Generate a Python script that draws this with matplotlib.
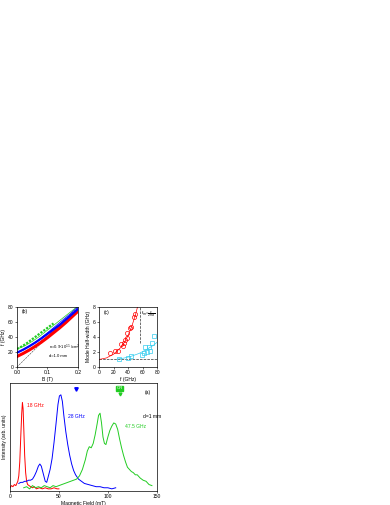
import numpy as np
import matplotlib

matplotlib.use("Agg")
import matplotlib.pyplot as plt

plt.rcParams["font.family"] = ["Liberation Sans", "DejaVu Sans"]
FS = 3.6

# ---- panel (a): spectra ----
red_B = [0, 1.5, 3, 4.5, 6, 7, 8, 9, 10, 11, 12, 12.7, 13.4, 14.2, 15, 16, 17, 18, 19.5, 21,
         23, 25, 27, 30, 33, 36, 39, 42, 45, 48, 50]
red_I = [0.03, 0.05, 0.04, 0.06, 0.05, 0.07, 0.09, 0.14, 0.27, 0.5, 0.72, 0.82, 0.76, 0.55, 0.33,
         0.17, 0.09, 0.06, 0.05, 0.04, 0.03, 0.04, 0.02, 0.03, 0.02, 0.03, 0.02, 0.02, 0.03, 0.02, 0.02]

blue_B = [9, 11, 13, 15, 17, 19, 21, 23, 25, 27, 29, 30.5, 32, 34, 36, 37.5, 39, 41, 43, 45,
          47, 49, 50.5, 52, 53.5, 55, 57, 59, 61, 63, 65, 67, 70, 73, 76, 80, 84, 88, 92,
          96, 100, 104, 108]
blue_I = [0.07, 0.08, 0.08, 0.09, 0.09, 0.1, 0.1, 0.11, 0.14, 0.18, 0.23, 0.25, 0.23, 0.16,
          0.09, 0.08, 0.13, 0.2, 0.3, 0.45, 0.62, 0.8, 0.88, 0.89, 0.83, 0.7, 0.55, 0.43, 0.33,
          0.25, 0.19, 0.15, 0.11, 0.09, 0.07, 0.06, 0.05, 0.04, 0.04, 0.03, 0.03, 0.02, 0.03]

green_B = [14, 17, 20, 23, 26, 29, 32, 35, 38, 41, 44, 47, 50, 53, 56, 59, 62, 65, 68, 71,
           74, 77, 79, 81, 83, 85, 87, 89, 90.5, 92, 93.5, 95, 96.5, 98, 100, 102, 104, 106,
           108, 110, 112, 114, 116, 118, 120, 122, 124, 126, 128, 130, 133, 136, 139, 142, 145]
green_I = [0.03, 0.04, 0.02, 0.05, 0.03, 0.04, 0.03, 0.05, 0.04, 0.03, 0.05, 0.04, 0.05, 0.06,
           0.07, 0.08, 0.09, 0.1, 0.11, 0.14, 0.2, 0.29, 0.37, 0.41, 0.4, 0.44, 0.52, 0.62, 0.7,
           0.72, 0.63, 0.5, 0.44, 0.43, 0.5, 0.56, 0.6, 0.63, 0.62, 0.57, 0.48, 0.4, 0.33, 0.27,
           0.22, 0.2, 0.18, 0.17, 0.15, 0.15, 0.12, 0.1, 0.09, 0.06, 0.05]

# ---- panel (b): f vs B ----
gb_B = [0.0, 0.01, 0.02, 0.03, 0.04, 0.05, 0.06, 0.07, 0.08, 0.09, 0.1, 0.11, 0.12]
gb_f = [24, 26, 28.5, 31, 34, 37, 40, 43, 46, 49, 52, 55, 58]
bb_B = [0.0, 0.02, 0.04, 0.06, 0.08, 0.1, 0.12, 0.14, 0.16, 0.18, 0.2]
bb_f = [19, 23, 27.5, 32.5, 38, 44, 50, 56, 63, 70, 77]
rb_B = [0.0, 0.02, 0.04, 0.06, 0.08, 0.1, 0.12, 0.14, 0.16, 0.18, 0.2]
rb_f = [14, 18, 22.5, 27.5, 33, 39, 45.5, 52, 59, 66.5, 74]
fit_B = [0.0, 0.025, 0.05, 0.075, 0.1, 0.125, 0.15, 0.175, 0.2]
fit_g = [24, 28, 34, 41, 49, 57, 65, 73, 81]
fit_b = [19, 23.5, 30, 37.5, 45.5, 54, 62.5, 71, 80]
fit_r = [14, 19, 25.5, 33, 41, 49.5, 58, 66.5, 75.5]
diag_B = [0.0, 0.2]
diag_f = [0.0, 80.0]

# ---- panel (c): mode half-width ----
c_red_f = [15.5, 22, 26.5, 30, 32.5, 34.5, 36, 38, 39, 43, 44.5, 47.5, 49.5]
c_red_w = [1.9, 2.1, 2.1, 3.05, 2.8, 3.2, 3.6, 3.8, 4.5, 5.2, 5.3, 6.6, 7.0]
c_cy_f = [27.5, 39.5, 44, 59, 61.5, 63, 66, 68.5, 70.5, 73, 75.5]
c_cy_w = [1.1, 1.25, 1.5, 1.55, 1.9, 2.7, 2.0, 2.6, 2.15, 3.2, 4.1]
c_redfit_f = [0, 10, 20, 30, 35, 40, 45, 50, 53]
c_redfit_w = [1.0, 1.2, 1.7, 2.6, 3.3, 4.2, 5.4, 6.9, 8.0]
c_cyfit_f = [25, 35, 45, 55, 65, 75, 80]
c_cyfit_w = [1.05, 1.2, 1.45, 1.8, 2.3, 2.9, 3.3]

RED, BLUE, GREEN, CYAN = "#ff0000", "#0000ff", "#22cc22", "#33ccee"

fig = plt.figure(figsize=(3.9, 5.05), dpi=100)


def style(ax):
    ax.tick_params(labelsize=FS, length=1.5, width=0.4, pad=1, direction="out")
    for s in ax.spines.values():
        s.set_linewidth(0.5)


# (b)
axb = fig.add_axes([0.0436, 0.2733, 0.156, 0.119])
axb.plot(diag_B, diag_f, "--", color="#444444", lw=0.4)
axb.plot(fit_B, fit_g, color=GREEN, lw=0.5)
axb.plot(fit_B, fit_b, color=BLUE, lw=0.5)
axb.plot(fit_B, fit_r, color=RED, lw=0.5)
axb.plot(rb_B, rb_f, color=RED, lw=2.2)
axb.plot(bb_B, bb_f, color=BLUE, lw=1.6)
axb.plot(gb_B, gb_f, color=GREEN, lw=1.6, ls=(0, (1, 0.6)))
axb.set_xlim(0, 0.2)
axb.set_ylim(0, 80)
axb.set_xticks([0.0, 0.1, 0.2])
axb.set_yticks([0, 20, 40, 60, 80])
axb.set_xlabel("B (T)", fontsize=FS, labelpad=1)
axb.set_ylabel("f (GHz)", fontsize=FS, labelpad=1)
axb.text(0.07, 0.9, "(b)", fontsize=FS, transform=axb.transAxes)
axb.text(0.52, 0.3, r"n=0.9$\cdot$10$^{11}$ /cm$^2$", fontsize=FS - 0.6, transform=axb.transAxes)
axb.text(0.52, 0.16, "d=1.0 mm", fontsize=FS - 0.6, transform=axb.transAxes)
style(axb)

# (c)
axc = fig.add_axes([0.254, 0.2733, 0.149, 0.119])
axc.axhline(1.0, color="#333333", ls="--", lw=0.5)
axc.plot([57, 57], [3.2, 8], color="#333333", ls="--", lw=0.5)
axc.plot(c_redfit_f, c_redfit_w, color=RED, lw=0.5)
axc.plot(c_cyfit_f, c_cyfit_w, color=CYAN, lw=0.5)
axc.plot(c_red_f, c_red_w, "o", mfc="none", mec=RED, ms=3, mew=0.5)
axc.plot(c_cy_f, c_cy_w, "s", mfc="none", mec=CYAN, ms=2.6, mew=0.5)
axc.set_xlim(0, 80)
axc.set_ylim(0, 8)
axc.set_xticks([0, 20, 40, 60, 80])
axc.set_yticks([0, 2, 4, 6, 8])
axc.set_xlabel("f (GHz)", fontsize=FS, labelpad=1)
axc.set_ylabel("Mode Half-width (GHz)", fontsize=FS, labelpad=1)
axc.text(0.08, 0.88, "(c)", fontsize=FS, transform=axc.transAxes)
axc.text(0.73, 0.86, r"f$_m$=$\frac{c}{2nd}$", fontsize=FS - 0.4, transform=axc.transAxes)
style(axc)

# (a)
axa = fig.add_axes([0.0256, 0.0277, 0.3765, 0.214])
axa.plot(red_B, red_I, color=RED, lw=0.7)
axa.plot(blue_B, blue_I, color=BLUE, lw=0.7)
axa.plot(green_B, green_I, color=GREEN, lw=0.7)
axa.set_xlim(0, 150)
axa.set_ylim(0, 1)
axa.set_xticks([0, 50, 100, 150])
axa.set_yticks([])
axa.set_xlabel("Magnetic Field (mT)", fontsize=FS, labelpad=1)
axa.set_ylabel("Intensity (arb. units)", fontsize=FS, labelpad=2)
axa.text(17, 0.78, "18 GHz", color=RED, fontsize=FS)
axa.text(59, 0.68, "28 GHz", color=BLUE, fontsize=FS)
axa.text(117, 0.58, "47.5 GHz", color=GREEN, fontsize=FS)
axa.text(136, 0.68, "d=1 mm", fontsize=FS)
axa.text(138, 0.9, "(a)", fontsize=FS)
axa.plot([67], [0.94], "v", color=BLUE, ms=2.5)
axa.text(112, 0.95, "CR", fontsize=FS - 0.5, color="white", ha="center", va="center",
         bbox=dict(boxstyle="square,pad=0.15", fc=GREEN, ec=GREEN))
axa.plot([112], [0.895], "v", color=GREEN, ms=2)
style(axa)

fig.savefig("out.png", dpi=100)
